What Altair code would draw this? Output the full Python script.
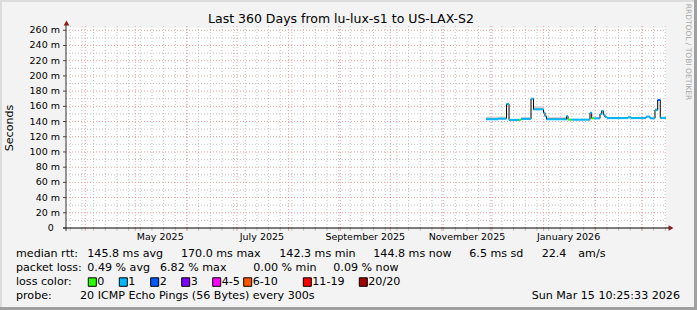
import altair as alt
import pandas as pd

# ---------------- values ----------------
title_text = "Last 360 Days from lu-lux-s1 to US-LAX-S2"
y_title = "Seconds"
watermark = "RRDTOOL / TOBI OETIKER"

seg_start = [
    "2025-11-27T10:30:00Z", "2025-12-04T15:00:00Z", "2025-12-09T18:00:00Z", "2025-12-11T06:00:00Z",
    "2025-12-17T06:00:00Z", "2025-12-18T10:30:00Z", "2025-12-24T10:30:00Z", "2025-12-25T22:30:00Z",
    "2025-12-31T22:30:00Z", "2026-01-01T20:00:00Z", "2026-01-02T17:40:00Z", "2026-01-14T17:40:00Z",
    "2026-01-15T15:20:00Z", "2026-01-17T10:30:00Z", "2026-01-28T20:00:00Z", "2026-01-29T20:30:00Z",
    "2026-01-31T05:40:00Z", "2026-02-03T20:00:00Z", "2026-02-04T20:30:00Z", "2026-02-05T19:40:00Z",
    "2026-02-06T20:00:00Z", "2026-02-08T01:00:00Z", "2026-02-20T15:20:00Z", "2026-02-22T10:30:00Z",
    "2026-03-03T10:30:00Z", "2026-03-05T20:00:00Z", "2026-03-08T20:00:00Z", "2026-03-10T11:00:00Z",
    "2026-03-12T00:00:00Z",
]
range_end_str = "2026-03-15T10:25:33Z"
seg_median_ms = [143.0, 143.8, 163.0, 142.2, 142.2, 143.5, 170.0, 156.0, 151.5, 147.0,
                 143.0, 147.0, 142.5, 142.5, 151.5, 144.2, 144.2, 150.0, 154.0, 149.0,
                 146.0, 144.5, 145.5, 144.5, 146.5, 144.2, 155.0, 168.3, 144.8]
seg_loss = ["1", "1", "1", "1", "0", "1", "1", "1", "1", "1",
            "1", "1", "0", "1", "1", "0", "1", "1", "1", "1",
            "1", "1", "1", "1", "1", "1", "1", "2", "1"]
seg_smoke_ms = [146.5, 146.5, 163.0, 142.2, 142.2, 146.0, 170.0, 160.0, 153.0, 148.0,
                146.0, 147.0, 142.5, 143.0, 151.5, 144.2, 145.0, 150.0, 155.0, 150.0,
                146.5, 145.5, 146.5, 145.5, 147.0, 145.0, 158.0, 168.3, 145.5]

y_tick_values = [20, 40, 60, 80, 100, 120, 140, 160, 180, 200, 220, 240, 260]
y_tick_labels = ["20 m", "40 m", "60 m", "80 m", "100 m", "120 m", "140 m", "160 m",
                 "180 m", "200 m", "220 m", "240 m", "260 m"]
x_label_dates = ["2025-05-16T00:00:00Z", "2025-07-16T00:00:00Z", "2025-09-16T00:00:00Z",
                 "2025-11-16T00:00:00Z", "2026-01-16T00:00:00Z"]
x_label_texts = ["May 2025", "July 2025", "September 2025", "November 2025", "January 2026"]

median_label = "median rtt:"
median_stats = ["145.8 ms avg", "170.0 ms max", "142.3 ms min", "144.8 ms now", "6.5 ms sd", "22.4", "am/s"]
loss_label = "packet loss:"
loss_stats = ["0.49 % avg", "6.82 % max", "0.00 % min", "0.09 % now"]
color_label = "loss color:"
loss_names = ["0", "1", "2", "3", "4-5", "6-10", "11-19", "20/20"]
loss_colors = ["#26ff00", "#00b8ff", "#0059ff", "#7e00ff", "#ff00ff", "#ff5500", "#ff0000", "#a10000"]
probe_label = "probe:"
probe_text = "20 ICMP Echo Pings (56 Bytes) every 300s"
stamp_text = "Sun Mar 15 10:25:33 2026"

# ---------------- layout ----------------
FONT = "DejaVu Sans"
W, H = 600, 200
PAD_L, PAD_T = 66, 28
TOTAL_W, TOTAL_H = 697, 310
Y_MAX = 263

median_x = [21.3, 115, 213.3, 307.3, 403.3, 475.7, 512.3]
loss_x = [21.3, 94, 187.3, 267.3]
box_x = [22.3, 53.3, 84.7, 115.7, 146.7, 177.7, 237.3, 293.3]
row_y = [226.3, 240.3, 254.3, 268.0]
LEG = 11.1
AX = 9.5

x_scale = alt.Scale(type="utc",
                    domain=[alt.DateTime(year=2025, month=3, date=20, hours=10, minutes=25, seconds=33, utc=True),
                            alt.DateTime(year=2026, month=3, date=15, hours=10, minutes=25, seconds=33, utc=True)])
y_scale = alt.Scale(domain=[0, Y_MAX], nice=False, zero=True)

fmt = "%Y-%m-%dT%H:%M:%SZ"
month_starts = [d.strftime(fmt) for d in pd.date_range("2025-04-01", "2026-03-01", freq="MS")]
sundays = [d.strftime(fmt) for d in pd.date_range("2025-03-23", "2026-03-15", freq="7D")]
y_minor = list(range(10, 261, 20))
y_major = list(range(20, 261, 20))

MINOR_C = "#c4c4c4"
MAJOR_C = "#eda0a0"
DASH = [1, 2]


def one():
    return pd.DataFrame({"a": [0]})


def txt(text, x, y, size=LEG, align="left", color="#000000", angle=0, baseline="middle"):
    return alt.Chart(pd.DataFrame({"t": [text]})).mark_text(
        align=align, baseline=baseline, fontSize=size, font=FONT, color=color, angle=angle
    ).encode(text="t:N", x=alt.value(x), y=alt.value(y))


def prect(x1, x2, y1, y2, color):
    return alt.Chart(one()).mark_rect(color=color).encode(
        x=alt.value(x1), x2=alt.value(x2), y=alt.value(y1), y2=alt.value(y2))


layers = []

# frame (3D border of rrdtool)
layers.append(prect(-PAD_L, TOTAL_W - PAD_L, -PAD_T, -PAD_T + 2, "#dcdcdc"))
layers.append(prect(-PAD_L, -PAD_L + 2, -PAD_T, TOTAL_H - PAD_T, "#dcdcdc"))
layers.append(prect(-PAD_L, TOTAL_W - PAD_L, TOTAL_H - PAD_T - 3, TOTAL_H - PAD_T, "#a0a0a0"))
layers.append(prect(TOTAL_W - PAD_L - 3, TOTAL_W - PAD_L, -PAD_T, TOTAL_H - PAD_T, "#a0a0a0"))

# grids
layers.append(alt.Chart(pd.DataFrame({"d": sundays})).mark_rule(color=MINOR_C, strokeDash=DASH).encode(
    x=alt.X("d:T", scale=x_scale, axis=None), y=alt.value(-2), y2=alt.value(H)))
layers.append(alt.Chart(pd.DataFrame({"v": y_minor})).mark_rule(color=MINOR_C, strokeDash=DASH).encode(
    y=alt.Y("v:Q", scale=y_scale, axis=None), x=alt.value(0), x2=alt.value(W)))
layers.append(alt.Chart(pd.DataFrame({"d": month_starts})).mark_rule(color=MAJOR_C, strokeDash=DASH).encode(
    x=alt.X("d:T", scale=x_scale, axis=None), y=alt.value(-2), y2=alt.value(H)))
layers.append(alt.Chart(pd.DataFrame({"v": y_major})).mark_rule(color=MAJOR_C, strokeDash=DASH).encode(
    y=alt.Y("v:Q", scale=y_scale, axis=None), x=alt.value(0), x2=alt.value(W)))

# x ticks below axis
layers.append(alt.Chart(pd.DataFrame({"d": sundays})).mark_rule(color=MINOR_C).encode(
    x=alt.X("d:T", scale=x_scale, axis=None), y=alt.value(H), y2=alt.value(H + 3)))
layers.append(alt.Chart(pd.DataFrame({"d": month_starts})).mark_rule(color=MAJOR_C).encode(
    x=alt.X("d:T", scale=x_scale, axis=None), y=alt.value(H), y2=alt.value(H + 3)))

# data
seg_end = seg_start[1:] + [range_end_str]
seg = pd.DataFrame({"start": seg_start, "end": seg_end, "median": seg_median_ms,
                    "loss": seg_loss, "smoke": seg_smoke_ms})
smoke = seg[seg["smoke"] > seg["median"] + 0.5]
layers.append(alt.Chart(smoke).mark_rect(color="#d2d2d2").encode(
    x=alt.X("start:T", scale=x_scale, axis=None), x2="end:T",
    y=alt.Y("median:Q", scale=y_scale, axis=None), y2="smoke:Q"))

step_df = pd.DataFrame({"t": seg_start + [range_end_str], "median": seg_median_ms + [seg_median_ms[-1]]})
layers.append(alt.Chart(step_df).mark_line(interpolate="step-after", color="#000000", strokeWidth=1).encode(
    x=alt.X("t:T", scale=x_scale, axis=None), y=alt.Y("median:Q", scale=y_scale, axis=None)))

layers.append(alt.Chart(seg).mark_rule(strokeWidth=2, strokeCap="butt").encode(
    x=alt.X("start:T", scale=x_scale, axis=None), x2="end:T",
    y=alt.Y("median:Q", scale=y_scale, axis=None),
    color=alt.Color("loss:N", scale=alt.Scale(domain=loss_names, range=loss_colors), legend=None)))

# axes lines, ticks and arrows
layers.append(alt.Chart(one()).mark_rule(color="#333333").encode(
    x=alt.value(0), y=alt.value(H + 3), y2=alt.value(-4)))
layers.append(alt.Chart(one()).mark_rule(color="#000000").encode(
    x=alt.value(-3), x2=alt.value(W + 4), y=alt.value(H)))
layers.append(alt.Chart(pd.DataFrame({"v": [0] + y_tick_values})).mark_rule(color="#444444").encode(
    y=alt.Y("v:Q", scale=y_scale, axis=None), x=alt.value(-3), x2=alt.value(0)))
layers.append(alt.Chart(one()).mark_point(shape="triangle-up", filled=True, size=32, color="#8b1a1a", opacity=1).encode(
    x=alt.value(0.5), y=alt.value(-5)))
layers.append(alt.Chart(one()).mark_point(shape="triangle-right", filled=True, size=32, color="#8b1a1a", opacity=1).encode(
    x=alt.value(W + 5), y=alt.value(H)))

# axis labels
layers.append(alt.Chart(pd.DataFrame({"v": y_tick_values, "lab": y_tick_labels})).mark_text(
    align="right", baseline="middle", fontSize=AX, font=FONT, color="#000000").encode(
    y=alt.Y("v:Q", scale=y_scale, axis=None), x=alt.value(-6), text="lab:N"))
layers.append(txt("0", -12.3, H, size=AX, align="right"))
layers.append(alt.Chart(pd.DataFrame({"d": x_label_dates, "lab": x_label_texts})).mark_text(
    align="center", baseline="middle", fontSize=AX, font=FONT, color="#000000").encode(
    x=alt.X("d:T", scale=x_scale, axis=None), y=alt.value(209.3), text="lab:N"))

# titles
layers.append(txt(title_text, 275, -8.7, size=12.5, align="center"))
layers.append(txt(y_title, -56, 100, size=LEG, align="center", angle=270))
layers.append(txt(watermark, 622, 24, size=7.5, align="center", angle=90, color="#a8a8a8"))

# legend
layers.append(txt(median_label, -50, row_y[0]))
for s, x in zip(median_stats, median_x):
    layers.append(txt(s, x, row_y[0]))
layers.append(txt(loss_label, -50, row_y[1]))
for s, x in zip(loss_stats, loss_x):
    layers.append(txt(s, x, row_y[1]))
layers.append(txt(color_label, -50, row_y[2]))
for name, col, x in zip(loss_names, loss_colors, box_x):
    layers.append(alt.Chart(one()).mark_rect(fill=col, stroke="#000000", strokeWidth=1).encode(
        x=alt.value(x), x2=alt.value(x + 8), y=alt.value(row_y[2] - 4.5), y2=alt.value(row_y[2] + 4)))
    layers.append(txt(name, x + 9, row_y[2]))
layers.append(txt(probe_label, -50, row_y[3]))
layers.append(txt(probe_text, 14, row_y[3]))
layers.append(txt(stamp_text, 614, row_y[3], align="right"))

chart = alt.layer(*layers).properties(
    width=W, height=H,
    autosize=alt.AutoSizeParams(type="none"),
    padding={"left": PAD_L, "top": PAD_T, "right": TOTAL_W - PAD_L - W, "bottom": TOTAL_H - PAD_T - H},
    background="#f3f3f3",
).configure_view(fill="#ffffff", stroke=None)

chart.save("out.html", embed_options={"renderer": "svg", "actions": False})
